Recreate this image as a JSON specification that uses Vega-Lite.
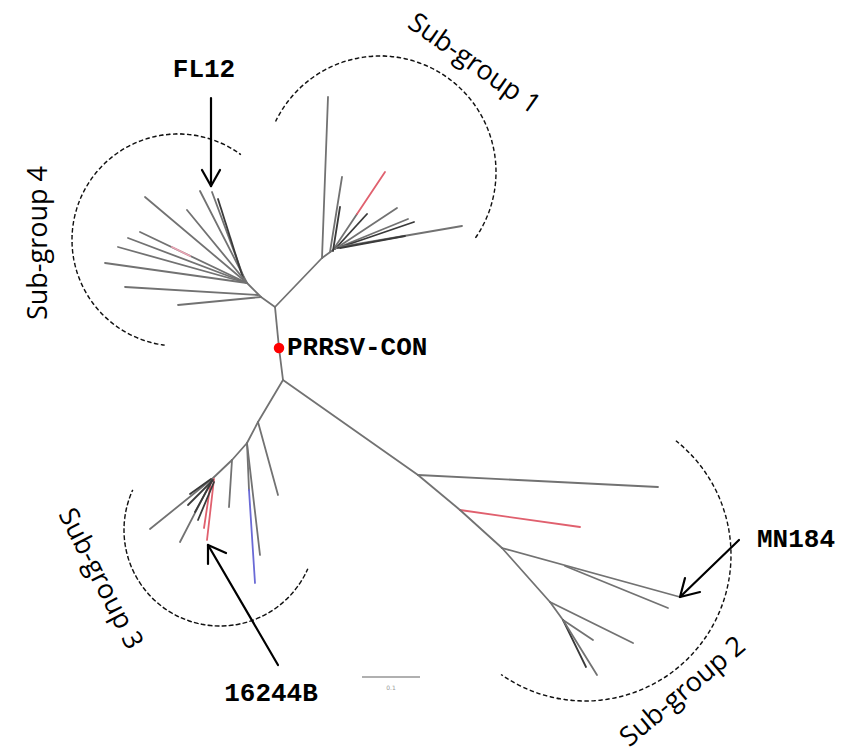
{
  "$schema": "https://vega.github.io/schema/vega-lite/v6.json",
  "width": 841,
  "height": 753,
  "padding": 0,
  "autosize": {"type": "none"},
  "background": "white",
  "config": {"view": {"stroke": null}},
  "datasets": {
    "branches": [
      {"x": 275, "y": 307, "x2": 279, "y2": 348, "c": "g"},
      {"x": 279, "y": 348, "x2": 283, "y2": 380, "c": "g"},
      {"x": 275, "y": 307, "x2": 261, "y2": 297, "c": "g"},
      {"x": 261, "y": 297, "x2": 247, "y2": 283, "c": "g"},
      {"x": 275, "y": 307, "x2": 322, "y2": 258, "c": "g"},
      {"x": 247, "y": 283, "x2": 145, "y2": 197, "c": "g"},
      {"x": 247, "y": 283, "x2": 200, "y2": 191, "c": "g"},
      {"x": 245, "y": 281, "x2": 212, "y2": 192, "c": "g"},
      {"x": 243, "y": 278, "x2": 218, "y2": 199, "c": "d"},
      {"x": 247, "y": 283, "x2": 187, "y2": 210, "c": "g"},
      {"x": 247, "y": 283, "x2": 140, "y2": 232, "c": "g"},
      {"x": 247, "y": 283, "x2": 128, "y2": 238, "c": "g"},
      {"x": 247, "y": 283, "x2": 118, "y2": 247, "c": "g"},
      {"x": 247, "y": 283, "x2": 105, "y2": 263, "c": "g"},
      {"x": 258, "y": 295, "x2": 125, "y2": 287, "c": "g"},
      {"x": 261, "y": 297, "x2": 178, "y2": 305, "c": "g"},
      {"x": 190, "y": 256, "x2": 172, "y2": 247, "c": "p"},
      {"x": 322, "y": 258, "x2": 328, "y2": 97, "c": "g"},
      {"x": 322, "y": 258, "x2": 333, "y2": 250, "c": "g"},
      {"x": 330, "y": 252, "x2": 342, "y2": 177, "c": "g"},
      {"x": 333, "y": 250, "x2": 357, "y2": 214, "c": "g"},
      {"x": 357, "y": 214, "x2": 385, "y2": 172, "c": "r"},
      {"x": 335, "y": 249, "x2": 367, "y2": 214, "c": "d"},
      {"x": 335, "y": 249, "x2": 397, "y2": 208, "c": "g"},
      {"x": 337, "y": 248, "x2": 408, "y2": 219, "c": "g"},
      {"x": 338, "y": 248, "x2": 414, "y2": 222, "c": "d"},
      {"x": 340, "y": 247, "x2": 462, "y2": 226, "c": "g"},
      {"x": 340, "y": 248, "x2": 405, "y2": 236, "c": "d"},
      {"x": 333, "y": 251, "x2": 340, "y2": 207, "c": "d"},
      {"x": 283, "y": 380, "x2": 258, "y2": 422, "c": "g"},
      {"x": 258, "y": 422, "x2": 278, "y2": 495, "c": "g"},
      {"x": 258, "y": 422, "x2": 247, "y2": 443, "c": "g"},
      {"x": 247, "y": 443, "x2": 260, "y2": 555, "c": "g"},
      {"x": 247, "y": 443, "x2": 249, "y2": 490, "c": "g"},
      {"x": 249, "y": 490, "x2": 255, "y2": 583, "c": "b"},
      {"x": 247, "y": 443, "x2": 232, "y2": 460, "c": "g"},
      {"x": 232, "y": 460, "x2": 229, "y2": 507, "c": "g"},
      {"x": 232, "y": 460, "x2": 212, "y2": 479, "c": "g"},
      {"x": 214, "y": 479, "x2": 207, "y2": 540, "c": "r"},
      {"x": 211, "y": 481, "x2": 204, "y2": 528, "c": "r"},
      {"x": 212, "y": 479, "x2": 150, "y2": 529, "c": "g"},
      {"x": 212, "y": 480, "x2": 180, "y2": 542, "c": "g"},
      {"x": 213, "y": 480, "x2": 188, "y2": 505, "c": "d"},
      {"x": 212, "y": 481, "x2": 195, "y2": 512, "c": "d"},
      {"x": 214, "y": 482, "x2": 198, "y2": 520, "c": "d"},
      {"x": 211, "y": 479, "x2": 190, "y2": 494, "c": "d"},
      {"x": 283, "y": 380, "x2": 418, "y2": 475, "c": "g"},
      {"x": 418, "y": 475, "x2": 658, "y2": 487, "c": "g"},
      {"x": 418, "y": 475, "x2": 460, "y2": 510, "c": "g"},
      {"x": 460, "y": 510, "x2": 580, "y2": 527, "c": "r"},
      {"x": 460, "y": 510, "x2": 502, "y2": 548, "c": "g"},
      {"x": 502, "y": 548, "x2": 680, "y2": 597, "c": "g"},
      {"x": 565, "y": 566, "x2": 668, "y2": 608, "c": "g"},
      {"x": 502, "y": 548, "x2": 550, "y2": 602, "c": "g"},
      {"x": 550, "y": 602, "x2": 633, "y2": 643, "c": "g"},
      {"x": 550, "y": 602, "x2": 563, "y2": 620, "c": "g"},
      {"x": 563, "y": 620, "x2": 593, "y2": 640, "c": "g"},
      {"x": 563, "y": 620, "x2": 586, "y2": 667, "c": "d"},
      {"x": 563, "y": 620, "x2": 597, "y2": 675, "c": "g"}
    ],
    "arcs": [
      {"group": "Sub-group 1", "x": 380, "y": 172, "r": 116, "t1": -1.12, "t2": 2.18603},
      {"group": "Sub-group 4", "x": 178, "y": 240, "r": 106, "t1": -3.016, "t2": 0.63494},
      {"group": "Sub-group 3", "x": 220, "y": 530, "r": 96, "t1": -4.29625, "t2": -1.14},
      {"group": "Sub-group 2", "x": 585, "y": 555, "r": 146, "t1": 0.672, "t2": 3.754192}
    ],
    "arrows": [
      {"x": 211, "y": 98, "x2": 211, "y2": 186},
      {"x": 202, "y": 170, "x2": 211, "y2": 186},
      {"x": 220, "y": 170, "x2": 211, "y2": 186},
      {"x": 739, "y": 540, "x2": 680, "y2": 597},
      {"x": 685, "y": 578, "x2": 680, "y2": 597},
      {"x": 700, "y": 592, "x2": 680, "y2": 597},
      {"x": 278, "y": 665, "x2": 208, "y2": 545},
      {"x": 208, "y": 564, "x2": 208, "y2": 545},
      {"x": 226, "y": 553, "x2": 208, "y2": 545}
    ],
    "strains": [
      {"label": "FL12", "x": 204, "y": 69},
      {"label": "MN184", "x": 796, "y": 539},
      {"label": "16244B", "x": 271, "y": 693}
    ],
    "consensus": [{"label": "PRRSV-CON", "x": 279, "y": 348}],
    "scalebar": [{"x": 362, "y": 677, "x2": 420, "y2": 677, "label": "0.1"}]
  },
  "encoding": {
    "x": {"field": "x", "type": "quantitative", "scale": {"domain": [0, 841], "nice": false, "zero": false}, "axis": null},
    "y": {"field": "y", "type": "quantitative", "scale": {"domain": [0, 753], "nice": false, "zero": false, "reverse": true}, "axis": null}
  },
  "layer": [
    {
      "data": {"name": "arcs"},
      "mark": {"type": "arc", "filled": false, "stroke": "#111111", "strokeWidth": 1.4, "strokeDash": [4, 3]},
      "encoding": {
        "theta": {"field": "t1", "type": "quantitative", "scale": null, "stack": null},
        "theta2": {"field": "t2"},
        "radius": {"field": "r", "type": "quantitative", "scale": null},
        "radius2": {"field": "r"}
      }
    },
    {
      "data": {"name": "scalebar"},
      "mark": {"type": "rule", "color": "#b0b0b0", "strokeWidth": 2},
      "encoding": {"x2": {"field": "x2"}, "y2": {"field": "y2"}}
    },
    {
      "data": {"name": "scalebar"},
      "mark": {"type": "text", "fontSize": 6, "color": "#999999", "dy": 11, "dx": 29, "font": "DejaVu Sans"},
      "encoding": {"text": {"field": "label"}}
    },
    {
      "data": {"name": "branches"},
      "mark": {"type": "rule", "strokeWidth": 1.8, "strokeCap": "round"},
      "encoding": {
        "x2": {"field": "x2"},
        "y2": {"field": "y2"},
        "color": {"field": "c", "type": "nominal", "legend": null, "scale": {"domain": ["g", "d", "r", "b", "p"], "range": ["#727272", "#3a3a3a", "#e0606e", "#6a6ad6", "#e9a3b3"]}}
      }
    },
    {
      "data": {"name": "arrows"},
      "mark": {"type": "rule", "color": "black", "strokeWidth": 2.2, "strokeCap": "round"},
      "encoding": {"x2": {"field": "x2"}, "y2": {"field": "y2"}}
    },
    {
      "data": {"name": "consensus"},
      "mark": {"type": "point", "filled": true, "color": "#ff0000", "size": 110, "opacity": 1},
      "encoding": {}
    },
    {
      "data": {"name": "consensus"},
      "mark": {"type": "text", "font": "Liberation Mono", "fontWeight": "bold", "fontSize": 26, "align": "left", "baseline": "middle", "dx": 8, "dy": -1, "color": "black"},
      "encoding": {"text": {"field": "label"}}
    },
    {
      "data": {"name": "strains"},
      "mark": {"type": "text", "font": "Liberation Mono", "fontWeight": "bold", "fontSize": 26, "align": "center", "baseline": "middle", "color": "black"},
      "encoding": {"text": {"field": "label"}}
    },
    {
      "data": {"values": [{"label": "Sub-group 1", "x": 474, "y": 64}]},
      "mark": {"type": "text", "font": "Open Sans", "fontSize": 27, "angle": 35, "align": "center", "baseline": "middle", "color": "black"},
      "encoding": {"text": {"field": "label"}}
    },
    {
      "data": {"values": [{"label": "Sub-group 4", "x": 39, "y": 243}]},
      "mark": {"type": "text", "font": "Open Sans", "fontSize": 27, "angle": 270, "align": "center", "baseline": "middle", "color": "black"},
      "encoding": {"text": {"field": "label"}}
    },
    {
      "data": {"values": [{"label": "Sub-group 3", "x": 100, "y": 579}]},
      "mark": {"type": "text", "font": "Open Sans", "fontSize": 27, "angle": 63, "align": "center", "baseline": "middle", "color": "black"},
      "encoding": {"text": {"field": "label"}}
    },
    {
      "data": {"values": [{"label": "Sub-group  2", "x": 683, "y": 692}]},
      "mark": {"type": "text", "font": "Open Sans", "fontSize": 27, "angle": 320, "align": "center", "baseline": "middle", "color": "black"},
      "encoding": {"text": {"field": "label"}}
    }
  ]
}
